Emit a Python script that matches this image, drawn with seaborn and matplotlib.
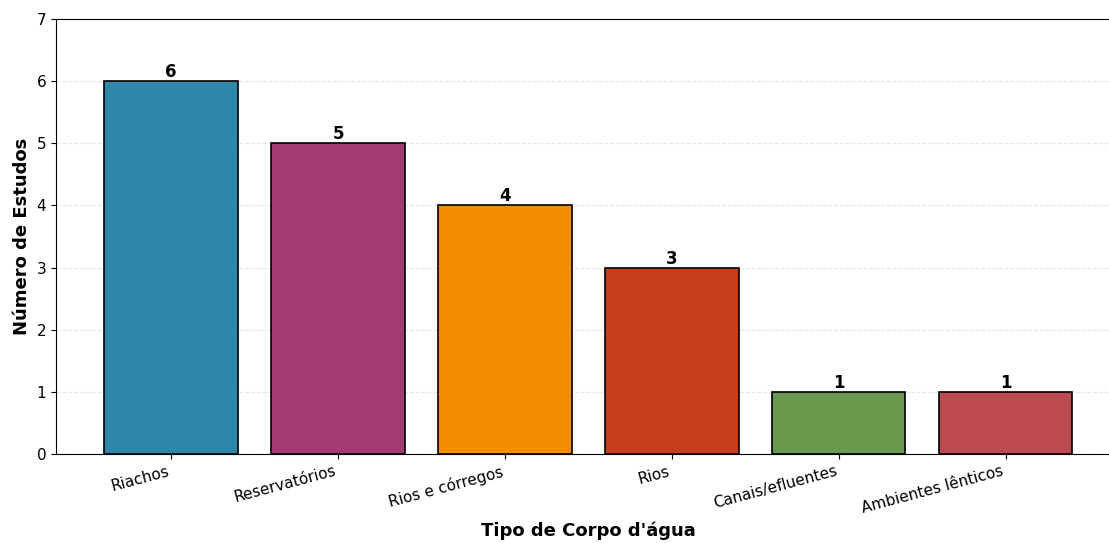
import matplotlib
matplotlib.use("Agg")
import matplotlib.pyplot as plt
import seaborn as sns
import pandas as pd

categorias = ["Riachos", "Reservatórios", "Rios e córregos", "Rios",
              "Canais/efluentes", "Ambientes lênticos"]
estudos = [6, 5, 4, 3, 1, 1]
cores = ["#2E86AB", "#A23B72", "#F18F01", "#C73E1D", "#6A994E", "#BC4B51"]

df = pd.DataFrame({"tipo": categorias, "n": estudos})

fig = plt.figure(figsize=(11.09, 5.43), dpi=100)
ax = fig.add_axes([0.0505, 0.164, 0.96, 0.801])

sns.barplot(data=df, x="tipo", y="n", hue="tipo", palette=cores,
            legend=False, width=0.8, edgecolor="black", linewidth=1.2,
            saturation=1, ax=ax)
ax.set_xlim(-0.69, 5.69)
ax.set_ylim(0, 7)

for patch, val in zip(ax.patches, estudos):
    ax.text(patch.get_x() + patch.get_width() / 2, val, f"{val}",
            ha="center", va="bottom", fontsize=12, fontweight="bold")

ax.set_xlabel("Tipo de Corpo d'água", fontsize=13, fontweight="bold")
ax.set_ylabel("Número de Estudos", fontsize=13, fontweight="bold")
ax.tick_params(axis="x", labelsize=11)
ax.tick_params(axis="y", labelsize=11)
plt.setp(ax.get_xticklabels(), rotation=15, ha="right")
ax.yaxis.grid(True, linestyle="--", alpha=0.3)
ax.set_axisbelow(True)

fig.savefig("out.png", dpi=100)
